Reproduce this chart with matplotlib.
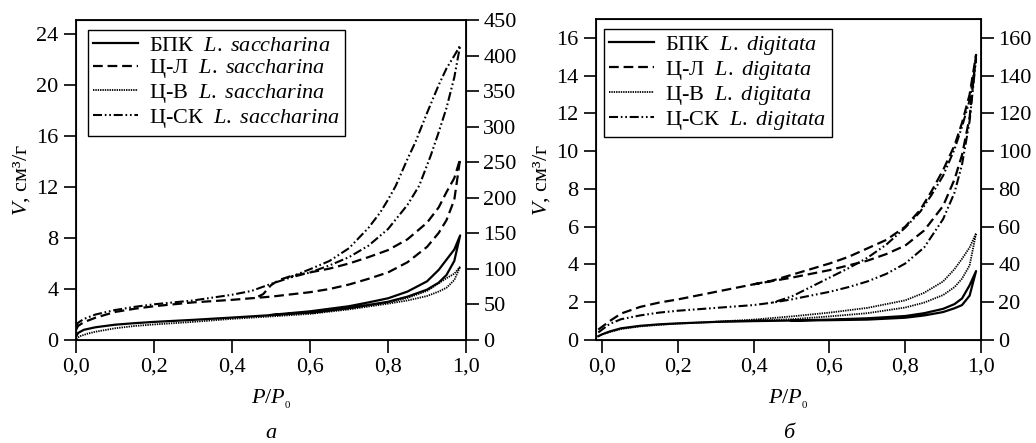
import matplotlib
matplotlib.use("Agg")
import matplotlib.pyplot as plt

plt.rcParams['font.family'] = ['Liberation Serif', 'DejaVu Serif']
plt.rcParams['font.size'] = 16
plt.rcParams['mathtext.fontset'] = 'custom'
plt.rcParams['mathtext.rm'] = 'Liberation Serif'
plt.rcParams['mathtext.it'] = 'Liberation Serif:italic'
plt.rcParams['lines.scale_dashes'] = False

# ---- L. saccharina (panel a), V in cm3/g on left axis ----
sac_bpk_p = [0.0, 0.005, 0.02, 0.05, 0.1, 0.15, 0.2, 0.3, 0.4, 0.5, 0.6, 0.7, 0.75, 0.8, 0.85, 0.9, 0.93, 0.95, 0.97, 0.985,
             0.97, 0.95, 0.93, 0.9, 0.85, 0.8, 0.75, 0.7, 0.6, 0.5]
sac_bpk_v = [0.25, 0.55, 0.8, 1.0, 1.2, 1.32, 1.42, 1.58, 1.76, 1.95, 2.15, 2.5, 2.75, 3.0, 3.4, 3.95, 4.5, 5.1, 6.2, 8.2,
             7.1, 6.3, 5.5, 4.6, 3.8, 3.27, 2.95, 2.65, 2.25, 1.97]

sac_cl_p = [0.0, 0.005, 0.02, 0.05, 0.1, 0.15, 0.2, 0.3, 0.4, 0.5, 0.6, 0.65, 0.7, 0.75, 0.8, 0.85, 0.9, 0.93, 0.95, 0.97, 0.985,
            0.97, 0.95, 0.93, 0.9, 0.85, 0.8, 0.75, 0.7, 0.65, 0.6, 0.55, 0.52, 0.5, 0.48, 0.46]
sac_cl_v = [0.8, 1.1, 1.4, 1.75, 2.2, 2.45, 2.65, 2.95, 3.15, 3.4, 3.75, 4.0, 4.35, 4.8, 5.3, 6.1, 7.3, 8.4, 9.4, 11.0, 14.2,
            12.7, 11.6, 10.4, 9.2, 7.9, 7.05, 6.5, 6.0, 5.6, 5.3, 5.0, 4.7, 4.3, 3.6, 3.3]

sac_cv_p = [0.0, 0.01, 0.03, 0.05, 0.1, 0.15, 0.2, 0.3, 0.4, 0.5, 0.6, 0.7, 0.8, 0.85, 0.9, 0.93, 0.95, 0.97, 0.985,
            0.97, 0.95, 0.93, 0.9, 0.85, 0.8, 0.7, 0.6]
sac_cv_v = [0.1, 0.3, 0.5, 0.65, 0.92, 1.1, 1.22, 1.42, 1.66, 1.85, 2.05, 2.4, 2.85, 3.1, 3.45, 3.8, 4.1, 4.7, 5.75,
            5.2, 4.85, 4.45, 3.85, 3.3, 2.95, 2.5, 2.1]

sac_csk_p = [0.0, 0.005, 0.02, 0.05, 0.1, 0.15, 0.2, 0.3, 0.4, 0.45, 0.5, 0.55, 0.6, 0.65, 0.7, 0.75, 0.8, 0.85, 0.88, 0.91,
             0.93, 0.95, 0.97, 0.985,
             0.97, 0.95, 0.93, 0.9, 0.87, 0.85, 0.82, 0.8, 0.78, 0.75, 0.7, 0.65, 0.6, 0.55]
sac_csk_v = [1.1, 1.35, 1.65, 2.0, 2.35, 2.6, 2.8, 3.1, 3.55, 3.85, 4.4, 4.9, 5.3, 5.85, 6.5, 7.4, 8.7, 10.6, 12.1, 14.5,
             16.3, 18.2, 20.6, 23.1,
             22.3, 21.3, 20.0, 17.8, 15.5, 14.2, 12.1, 11.0, 10.0, 8.8, 7.2, 6.2, 5.55, 4.95]

# ---- L. digitata (panel б) ----
dig_bpk_p = [-0.01, 0.0, 0.02, 0.05, 0.1, 0.15, 0.2, 0.3, 0.4, 0.5, 0.6, 0.7, 0.8, 0.85, 0.9, 0.93, 0.95, 0.97, 0.987,
             0.97, 0.95, 0.93, 0.9, 0.85, 0.8, 0.7, 0.6, 0.5]
dig_bpk_v = [0.2, 0.3, 0.45, 0.62, 0.75, 0.83, 0.88, 0.96, 1.0, 1.03, 1.05, 1.08, 1.18, 1.3, 1.48, 1.68, 1.85, 2.35, 3.65,
             2.9, 2.2, 1.9, 1.65, 1.42, 1.27, 1.15, 1.08, 1.03]

dig_cl_p = [-0.01, 0.0, 0.02, 0.05, 0.1, 0.15, 0.2, 0.3, 0.4, 0.5, 0.6, 0.7, 0.75, 0.8, 0.85, 0.9, 0.93, 0.95, 0.97, 0.987,
            0.97, 0.95, 0.93, 0.9, 0.87, 0.84, 0.8, 0.75, 0.7, 0.65, 0.6, 0.55, 0.5, 0.45, 0.4]
dig_cl_v = [0.55, 0.7, 1.0, 1.4, 1.75, 1.98, 2.15, 2.55, 2.95, 3.3, 3.7, 4.2, 4.55, 5.0, 5.8, 7.1, 8.5, 9.8, 11.8, 15.1,
            13.0, 11.5, 10.3, 9.0, 7.9, 6.9, 6.0, 5.3, 4.85, 4.4, 4.05, 3.75, 3.45, 3.15, 2.95]

dig_cv_p = [-0.01, 0.0, 0.02, 0.05, 0.1, 0.15, 0.2, 0.3, 0.4, 0.5, 0.6, 0.7, 0.8, 0.85, 0.9, 0.93, 0.95, 0.97, 0.987,
            0.97, 0.95, 0.93, 0.9, 0.85, 0.8, 0.7, 0.6, 0.5, 0.4, 0.3]
dig_cv_v = [0.2, 0.3, 0.42, 0.58, 0.72, 0.8, 0.87, 0.96, 1.03, 1.1, 1.25, 1.42, 1.72, 1.98, 2.38, 2.8, 3.25, 3.95, 5.65,
            4.9, 4.3, 3.75, 3.1, 2.5, 2.1, 1.7, 1.45, 1.25, 1.08, 0.97]

dig_csk_p = [-0.01, 0.0, 0.02, 0.05, 0.1, 0.15, 0.2, 0.3, 0.4, 0.45, 0.5, 0.55, 0.6, 0.65, 0.7, 0.75, 0.8, 0.85, 0.9, 0.93,
             0.95, 0.97, 0.987,
             0.97, 0.95, 0.93, 0.9, 0.87, 0.84, 0.8, 0.75, 0.7, 0.65, 0.6, 0.55, 0.5, 0.45]
dig_csk_v = [0.4, 0.55, 0.85, 1.1, 1.3, 1.45, 1.55, 1.7, 1.85, 1.98, 2.15, 2.35, 2.55, 2.8, 3.1, 3.5, 4.05, 4.9, 6.4, 7.8,
             9.3, 11.6, 14.9,
             12.7, 11.3, 10.1, 8.7, 7.7, 6.8, 5.95, 5.05, 4.35, 3.8, 3.3, 2.8, 2.3, 1.98]

samples = ['БПК', 'Ц-Л', 'Ц-В', 'Ц-СК']
x_ticks = [0.0, 0.2, 0.4, 0.6, 0.8, 1.0]
x_ticklabels = ['0,0', '0,2', '0,4', '0,6', '0,8', '1,0']

# styles: solid, dashed, dotted, dash-dot-dot
styles = [dict(ls='-', lw=1.6),
          dict(dashes=[7, 3.5], lw=1.6),
          dict(dashes=[1, 0.7], lw=1.3),
          dict(dashes=[6.5, 2, 1.2, 2, 1.2, 2], lw=1.5)]

fig = plt.figure(figsize=(10.36, 4.43), dpi=100)


def panel(rect, curves, species, ylim, yticks, ylim2, yticks2, xlim, letter, leg_x):
    ax = fig.add_axes(rect)
    for (p, v), name, st in zip(curves, samples, styles):
        ax.plot(p, v, color='k', label=name + r'  $\mathit{' + species + '}$', **st)
    ax.set_xlim(*xlim)
    ax.set_ylim(*ylim)
    ax.set_yticks(yticks)
    ax.set_xticks(x_ticks)
    ax.set_xticklabels(x_ticklabels)
    ax.tick_params(direction='out', length=9, width=1.2, top=False, right=False)
    for s in ax.spines.values():
        s.set_linewidth(1.3)
    ax.set_ylabel(r'$V$, см³/г', labelpad=3)
    ax.set_xlabel(r'$P/P_{_0}$', labelpad=8)
    ax.text(0.5, -0.262, letter, transform=ax.transAxes, ha='center', va='top', style='italic')

    ax2 = ax.twinx()
    ax2.set_ylim(*ylim2)
    ax2.set_yticks(yticks2)
    ax2.tick_params(direction='out', length=9, width=1.2)

    leg = ax.legend(loc='upper left', bbox_to_anchor=(leg_x, 0.97), borderaxespad=0, fancybox=False,
                    edgecolor='k', framealpha=1, handlelength=2.0, handletextpad=0.5,
                    labelspacing=0.08, borderpad=0.25, fontsize=16)
    leg.get_frame().set_linewidth(1.0)
    return ax


panel([0.0734, 0.2325, 0.3764, 0.7224],
      [(sac_bpk_p, sac_bpk_v), (sac_cl_p, sac_cl_v), (sac_cv_p, sac_cv_v), (sac_csk_p, sac_csk_v)],
      r'L.\ saccharina', (0, 25.1), range(0, 25, 4), (0, 450), range(0, 451, 50), (0, 1.0), 'а', 0.03)

panel([0.5753, 0.2325, 0.3716, 0.7246],
      [(dig_bpk_p, dig_bpk_v), (dig_cl_p, dig_cl_v), (dig_cv_p, dig_cv_v), (dig_csk_p, dig_csk_v)],
      r'L.\ digitata', (0, 17), range(0, 17, 2), (0, 170), range(0, 161, 20), (-0.016, 1.0), 'б', 0.02)

fig.savefig('out.png', dpi=100)
